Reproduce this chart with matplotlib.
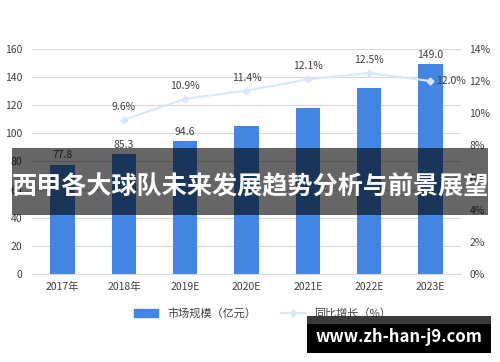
import matplotlib
matplotlib.use("Agg")
import matplotlib.pyplot as plt
from matplotlib.patches import Rectangle

plt.rcParams['font.family'] = ['Noto Sans CJK SC', 'DejaVu Sans']

# data
years = ['2017年', '2018年', '2019E', '2020E', '2021E', '2022E', '2023E']
market = [77.8, 85.3, 94.6, 105.2, 118.0, 132.3, 149.0]
market_labels = ['77.8', '85.3', '94.6', '', '', '', '149.0']
growth_years = years[1:]
growth = [9.6, 10.9, 11.4, 12.1, 12.5, 12.0]

bar_color = '#4285e2'
line_color = '#dbe7f8'
text_color = '#404040'

fig = plt.figure(figsize=(5, 3.62), dpi=100)
ax = fig.add_axes([0.064, 0.243, 0.858, 0.622])
ax2 = ax.twinx()

x = list(range(len(years)))
ax.bar(x, market, width=0.4, color=bar_color, zorder=2)
for xi, v, lab in zip(x, market, market_labels):
    if lab:
        ax.text(xi, v + 3, lab, ha='center', va='bottom', fontsize=7.5, color=text_color)

gx = [years.index(y) for y in growth_years]
ax2.plot(gx, growth, color=line_color, lw=1.5, marker='D', ms=3.5, zorder=3)
for xi, v in zip(gx, growth):
    if xi == gx[-1]:
        ax2.text(xi + 0.1, v, f'{v:.1f}%', ha='left', va='center', fontsize=7.5, color=text_color)
    else:
        ax2.text(xi, v + 0.5, f'{v:.1f}%', ha='center', va='bottom', fontsize=7.5, color=text_color)

ax.set_xlim(-0.5, 6.5)
ax.set_ylim(0, 160)
ax.set_yticks(range(0, 161, 20))
ax2.set_ylim(0, 14)
ax2.set_yticks(range(0, 15, 2))
ax2.set_yticklabels([f'{t}%' for t in range(0, 15, 2)])
ax.set_xticks(x)
ax.set_xticklabels(years)
ax.grid(axis='y', color='#d9d9d9', lw=0.8, zorder=0)
ax.set_axisbelow(True)
for a in (ax, ax2):
    for s in a.spines.values():
        s.set_visible(False)
    a.tick_params(length=0, labelsize=7.5, colors=text_color)
ax.tick_params(axis='x', pad=6)
ax.tick_params(axis='y', pad=7)
ax2.tick_params(axis='y', pad=6)
ax.spines['bottom'].set_visible(True)
ax.spines['bottom'].set_color('#d9d9d9')

# legend
h1 = plt.Rectangle((0, 0), 1, 1, color=bar_color)
h2, = ax.plot([], [], color=line_color, lw=1.5, marker='D', ms=3.5)
fig.legend([h1, h2], ['市场规模（亿元）', '同比增长（%）'], loc='center', bbox_to_anchor=(0.525, 0.135),
           ncol=2, frameon=False, fontsize=8, handlelength=2.2, columnspacing=2.2,
           labelcolor=text_color)

# dark title band
fig.patches.append(Rectangle((0.024, 0.406), 0.952, 0.185, transform=fig.transFigure,
                             facecolor='black', alpha=0.6, zorder=10))
fig.text(0.5, 0.484, '西甲各大球队未来发展趋势分析与前景展望', ha='center', va='center',
         fontsize=18.1, fontweight='bold', color='white', zorder=11)

# watermark box
fig.patches.append(Rectangle((0.614, 0.025), 0.368, 0.1, transform=fig.transFigure,
                             facecolor='black', zorder=10))
fig.patches.append(Rectangle((0.614, 0.106), 0.368, 0.022, transform=fig.transFigure,
                             facecolor='#3a3a3a', zorder=10))
fig.text(0.798, 0.07, 'www.zh-han-j9.com', ha='center', va='center',
         fontsize=12, fontweight='bold', color='white', zorder=11)

fig.savefig('out.png', dpi=100, facecolor='white')
